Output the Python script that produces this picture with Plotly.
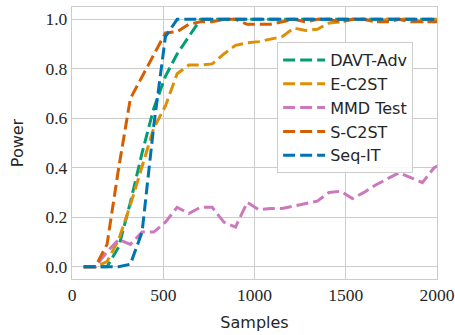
import plotly.graph_objects as go

samples = [64 * i for i in range(1, 33)]

davt_adv = [0, 0, 0, 0.08, 0.26, 0.46, 0.64, 0.77, 0.86, 0.93, 1.0,
            1.0, 1.0, 1.0, 1.0, 1.0, 1.0, 1.0, 1.0, 1.0, 1.0, 1.0,
            1.0, 1.0, 1.0, 1.0, 1.0, 1.0, 1.0, 1.0, 1.0, 1.0]
e_c2st = [0, 0, 0.02, 0.11, 0.25, 0.40, 0.56, 0.65, 0.78, 0.815, 0.815,
          0.82, 0.86, 0.895, 0.905, 0.91, 0.92, 0.93, 0.965, 0.955, 0.96,
          0.985, 0.99, 1.0, 1.0, 0.99, 1.0, 1.0, 1.0, 0.99, 1.0, 1.0]
mmd_test = [0, 0, 0.06, 0.11, 0.09, 0.14, 0.14, 0.18, 0.24, 0.215, 0.24,
            0.24, 0.18, 0.16, 0.26, 0.23, 0.235, 0.235, 0.245, 0.255, 0.265,
            0.30, 0.305, 0.275, 0.30, 0.33, 0.355, 0.38, 0.36, 0.34, 0.40, 0.42]
s_c2st = [0, 0, 0.09, 0.40, 0.68, 0.77, 0.86, 0.945, 0.95, 0.98, 0.99,
          0.99, 1.0, 1.0, 0.98, 0.98, 0.98, 0.99, 1.0, 0.99, 1.0, 1.0,
          0.99, 1.0, 1.0, 0.99, 0.99, 1.0, 0.99, 0.99, 0.99, 0.99]
seq_it = [0, 0, 0, 0, 0.01, 0.14, 0.57, 0.93, 1.0, 1.0, 1.0,
          1.0, 1.0, 1.0, 1.0, 1.0, 1.0, 1.0, 1.0, 1.0, 1.0, 1.0,
          1.0, 1.0, 1.0, 1.0, 1.0, 1.0, 1.0, 1.0, 1.0, 1.0]

series = [
    ("DAVT-Adv", davt_adv, "#029e73"),
    ("E-C2ST", e_c2st, "#de8f05"),
    ("MMD Test", mmd_test, "#cc78bc"),
    ("S-C2ST", s_c2st, "#d55e00"),
    ("Seq-IT", seq_it, "#0173b2"),
]

x_ticks = [0, 500, 1000, 1500, 2000]
y_ticks = [0.0, 0.2, 0.4, 0.6, 0.8, 1.0]
y_tick_text = ["0.0", "0.2", "0.4", "0.6", "0.8", "1.0"]

fig = go.Figure()
for i, (name, vals, color) in enumerate(series):
    fig.add_trace(go.Scatter(
        x=samples, y=vals, name=name, mode="lines",
        legendgroup=f"g{i}",
        line=dict(color=color, width=3, dash="12px,5px"),
    ))

serif = "Liberation Serif"
sans = "DejaVu Sans"
fig.update_layout(
    width=455, height=335,
    margin=dict(l=72, r=18, t=7, b=56),
    paper_bgcolor="white", plot_bgcolor="white",
    showlegend=True,
    legend=dict(
        x=0.562, y=0.871, xanchor="left", yanchor="top",
        bgcolor="rgba(255,255,255,0.85)", bordercolor="#cccccc", borderwidth=1,
        font=dict(family=sans, size=16, color="#262626"),
        tracegroupgap=0, itemwidth=42,
    ),
    xaxis=dict(
        range=[0, 2000], tickvals=x_ticks, ticktext=[str(v) for v in x_ticks],
        showgrid=True, gridcolor="#cccccc", gridwidth=1,
        showline=True, linecolor="#cccccc", linewidth=1.3, mirror=True,
        zeroline=False, ticks="", automargin=False,
        tickfont=dict(family=serif, size=17.5, color="#262626"),
        title=dict(text="Samples", font=dict(family=sans, size=16, color="#262626"), standoff=12),
    ),
    yaxis=dict(
        range=[-0.05, 1.05], tickvals=y_ticks, ticktext=y_tick_text,
        showgrid=True, gridcolor="#cccccc", gridwidth=1,
        showline=True, linecolor="#cccccc", linewidth=1.3, mirror=True,
        zeroline=False, ticks="", automargin=False,
        tickfont=dict(family=serif, size=17.5, color="#262626"),
        title=dict(text="Power", font=dict(family=sans, size=16, color="#262626"), standoff=17),
    ),
)

fig.write_html("out.html", config={"displayModeBar": False},
               post_script="document.body.style.margin='0';")
